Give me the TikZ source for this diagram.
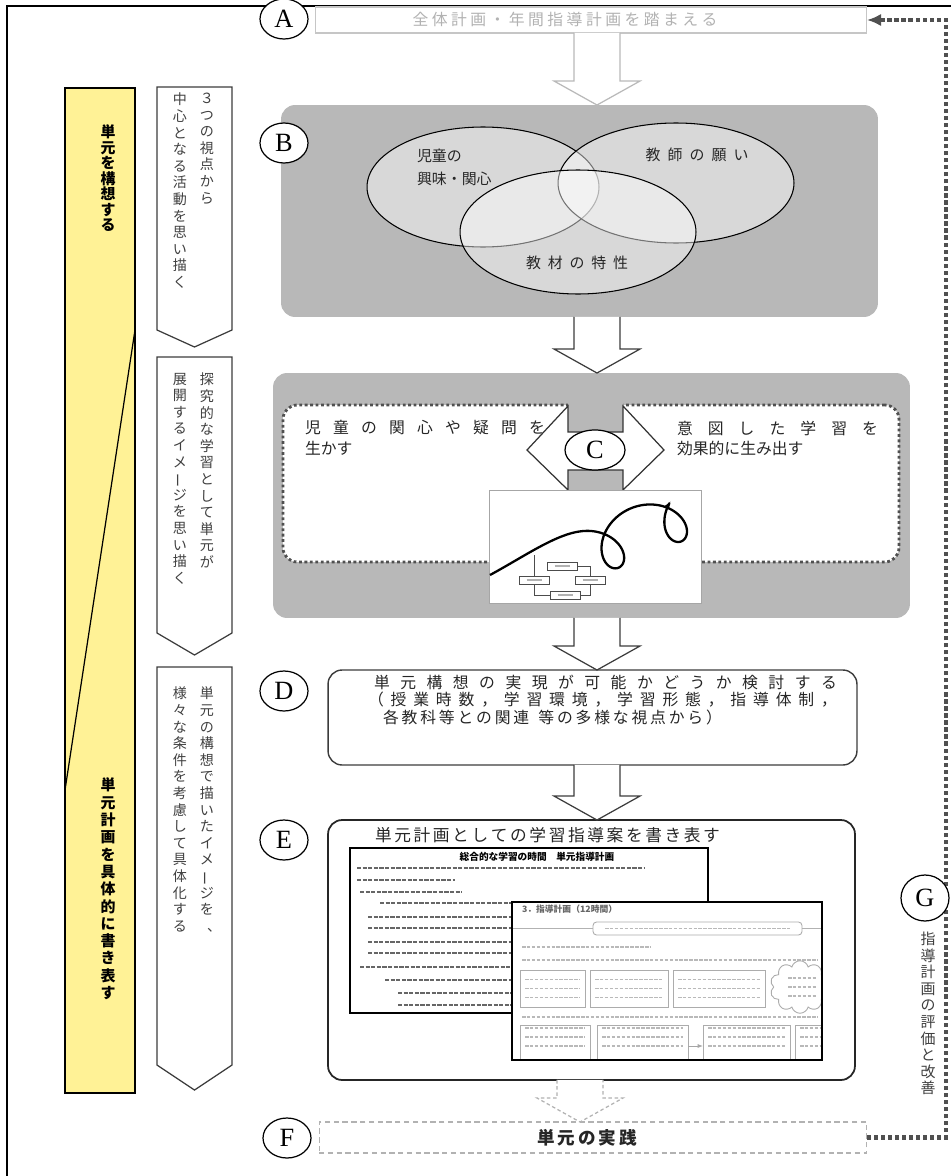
\documentclass[tikz,border=0pt]{standalone}
\usepackage{fontspec}
\usepackage{graphicx}
\newfontfamily\jp{Noto Sans CJK JP}
\newfontfamily\tagfont{Liberation Serif}
\usetikzlibrary{shapes.geometric, shapes.symbols, arrows.meta, positioning, calc}

\definecolor{planyellow}{RGB}{255,242,150}
\definecolor{panelgray}{RGB}{184,184,184}
\definecolor{railgray}{RGB}{80,80,80}
\definecolor{inkgray}{RGB}{60,60,60}

% one glyph per line for the upright columns
\def\endtate{\endtate}
\def\tateloop#1{\ifx\endtate#1\else\hbox to 1em{\hss#1\hss}\expandafter\tateloop\fi}
\newcommand\tate[2][1.15em]{\vbox{\baselineskip=#1\lineskiplimit=-\maxdimen\tateloop#2\endtate}}
% glyphs spread over a given width
\def\spreadloop#1{\ifx\endtate#1\else#1\hfil\expandafter\spreadloop\fi}
\newcommand\spread[2]{\hbox to #1{\spreadloop#2\endtate\unskip}}
\newcommand\vbar{\rotatebox[origin=c]{90}{ー}}
\newcommand\vcomma{\hbox to 1em{\hskip.5em、\hss}}

\begin{document}
\begin{tikzpicture}[x=0.02cm, y=-0.02cm,
  every node/.style={inner sep=0pt, outer sep=0pt},
  tag/.style={ellipse, draw=black, fill=white, line width=0.7pt, minimum width=0.96cm, minimum height=0.8cm, font=\tagfont\fontsize{15}{15}\selectfont},
  panel/.style={rectangle, rounded corners=8pt, fill=panelgray},
  card/.style={rectangle, rounded corners=8pt, draw=inkgray, line width=0.8pt, fill=white},
  sheet/.style={rectangle, draw=black, line width=1.3pt, fill=white},
  memo/.style={rectangle, draw=gray!65, line width=0.5pt, fill=white},
  minibox/.style={rectangle, draw=black!70, line width=0.4pt, fill=white, minimum width=0.6cm, minimum height=0.16cm},
  venn/.style={ellipse, draw=black, line width=0.6pt, fill=white, fill opacity=0.45},
  stepbox/.style={draw=inkgray, line width=0.7pt, fill=white},
  dotzone/.style={rectangle, rounded corners=8pt, fill=white, draw=railgray, line width=1.6pt, dash pattern=on 1.6pt off 1.5pt},
  blockarr/.style={draw=inkgray, line width=0.7pt, fill=white, to path={let \p1=(\tikztostart), \p2=(\tikztotarget) in
     (\x1-0.46cm,\y1) -- (\x1-0.46cm,\y2+0.48cm) -- (\x1-0.86cm,\y2+0.48cm) -- (\x1,\y2)
     -- (\x1+0.86cm,\y2+0.48cm) -- (\x1+0.46cm,\y2+0.48cm) -- (\x1+0.46cm,\y1)}},
  rail/.style={railgray, line width=2.4pt, dash pattern=on 2.4pt off 1.6pt},
  jtext/.style={font=\jp\fontsize{9}{10}\selectfont, text=black!85},
  tatetext/.style={anchor=north, font=\jp\fontsize{8}{9}\selectfont, text=black!75},
  inkbar/.style={black!60, line width=1.5pt, dash pattern=on 2.4pt off 0.8pt},
  greybar/.style={gray!55, line width=1.1pt, dash pattern=on 2pt off 0.8pt},
]
\useasboundingbox (0,0) rectangle (951,1176);
\fill[white] (0,0) rectangle (951,1176);

% outer frame
\draw[black, line width=0.8pt] (7,1176) -- (7,6) -- (951,6);

% left band: the two stages
\node[draw=black, line width=0.8pt, fill=planyellow, minimum width=1.4cm, minimum height=20.1cm] (nPlan) at (100,590.5) {};
\draw[black, line width=0.7pt] (nPlan.east |- 0,330) -- (nPlan.west |- 0,790);
\node[tatetext, text=black, font=\jp\bfseries\fontsize{8.5}{9}\selectfont] (plan1) at (108,125) {\tate[8.8pt]{単元を構想する}};
\node[tatetext, text=black, font=\jp\bfseries\fontsize{8.5}{9}\selectfont] (plan2) at (108,778) {\tate[9.85pt]{単元計画を具体的に書き表す}};

% step columns
\draw[stepbox] (157,87) -- (232,87) -- (232,330) -- (194.5,347) -- (157,330) -- cycle;
\draw[stepbox] (157,357) -- (232,357) -- (232,633) -- (194.5,655) -- (157,633) -- cycle;
\draw[stepbox] (157,667) -- (232,667) -- (232,1065) -- (194.5,1090) -- (157,1065) -- cycle;

\node[tatetext] (step1a) at (207,93) {\tate[9.45pt]{３つの視点から}};
\node[tatetext] (step1b) at (180,93) {\tate[9.45pt]{中心となる活動を思い描く}};
\node[tatetext] (step2a) at (207,373) {\tate[9.45pt]{探究的な学習として単元が}};
\node[tatetext] (step2b) at (180,373) {\tate[9.45pt]{展開するイメ\vbar ジを思い描く}};
\node[tatetext] (step3a) at (207,687) {\tate[9.45pt]{単元の構想で描いたイメ\vbar ジを\vcomma}};
\node[tatetext] (step3b) at (180,687) {\tate[9.45pt]{様々な条件を考慮して具体化する}};

% feedback rail
\coordinate (railx) at (946,0);
\coordinate (axis) at (597,0);
\coordinate (axisF) at (580,0);

%% A
\node[rectangle, draw=gray!45, line width=0.6pt, fill=white, minimum width=11.04cm, minimum height=0.52cm] (nA) at (591,20) {};
\node[font=\jp\fontsize{9}{10}\selectfont, text=gray!60] (nAtext) at (565,19) {\spread{6.1cm}{全体計画・年間指導計画を踏まえる}};
\node[tag] (tagA) at (284,19) {A};

%% B
\node[panel, minimum width=11.94cm, minimum height=4.24cm] (nB) at (579.5,211) {};
\node[venn, minimum width=4.64cm, minimum height=2.4cm] (vKids) at (483,187) {};
\node[venn, minimum width=4.72cm, minimum height=2.4cm] (vWish) at (676,183) {};
\node[venn, minimum width=4.72cm, minimum height=2.48cm] (vTraits) at (578,232) {};
\node[jtext, anchor=north west, align=left, font=\jp\fontsize{8.5}{13}\selectfont] (lblKids) at (417,149) {児童の\\興味・関心};
\node[jtext, font=\jp\fontsize{8.5}{10}\selectfont] (lblWish) at (697,155) {\spread{2.06cm}{教師の願い}};
\node[jtext, font=\jp\fontsize{8.5}{10}\selectfont] (lblTraits) at (577,263) {\spread{2.04cm}{教材の特性}};
\node[tag] (tagB) at (284,143) {B};

%% C
\node[panel, minimum width=12.74cm, minimum height=4.9cm] (nC) at (591.5,495.5) {};
\node[dotzone, minimum width=12.32cm, minimum height=3.14cm] (zone) at (591,483.5) {};
\node[jtext, anchor=west] (askL1) at (305,428) {\spread{4.8cm}{児童の関心や疑問を}};
\node[jtext, anchor=west] (askL2) at (305,448) {生かす};
\node[jtext, anchor=west] (aimR1) at (677,428) {\spread{4.02cm}{意図した学習を}};
\node[jtext, anchor=west] (aimR2) at (677,448) {効果的に生み出す};
\fill[panelgray] (568,400) rectangle (623,490);
\draw[draw=black!80, fill=white, line width=0.7pt] (527,450) -- (568,406) -- (568,432) -- (623,432) -- (623,406) -- (664,450)
  -- (623,490) -- (623,470) -- (568,470) -- (568,490) -- cycle;
\node[tag, minimum width=1.2cm] (tagC) at (595,450) {C};

% snapshot of the spiral plan
\node[draw=gray!70, fill=white, line width=0.5pt, minimum width=4.24cm, minimum height=2.26cm] (snap) at (595,546.5) {};
\draw[black, line width=1.3pt, -{Latex[length=4pt]}] (490,575) .. controls (525,556) and (556,534) .. (581.4,531.2)
  -- plot[domain=3.1416:14.45, samples=160, variable=\t] ({550+10*\t-25*sin(\t r)},{569.4-4.2*\t+25*cos(\t r)});
\node[minibox] (mTop) at (562,566) {\color{gray!60}\rule{0.3cm}{0.05cm}};
\node[minibox] (mLeft) at (534,580) {\color{gray!60}\rule{0.3cm}{0.05cm}};
\node[minibox] (mRight) at (590,580) {\color{gray!60}\rule{0.3cm}{0.05cm}};
\node[minibox] (mBottom) at (565,595) {\color{gray!60}\rule{0.3cm}{0.05cm}};
\coordinate (curveHit) at (534,555);
\draw[black!70, line width=0.4pt] (mTop.east) -| (mRight.north);
\draw[black!70, line width=0.4pt] (mRight.south) |- (mBottom.east);
\draw[black!70, line width=0.4pt] (mBottom.west) -| (mLeft.south);
\draw[black!70, line width=0.4pt] (mLeft.north) -- (mLeft.north |- curveHit);

%% D
\node[card, minimum width=10.58cm, minimum height=1.9cm] (nD) at (592.5,717.5) {};
\node[jtext, anchor=west] (chk1) at (374,682) {\spread{9.26cm}{単元構想の実現が可能かどうか検討する}};
\node[jtext, anchor=west] (chk2) at (368,700) {\spread{9.38cm}{（授業時数，学習環境，学習形態，指導体制，}};
\node[jtext, anchor=west] (chk3) at (383,717) {\spread{6.78cm}{各教科等との関連~等の多様な視点から）}};
\node[tag] (tagD) at (284,691) {D};

%% E
\node[card, draw=black!85, line width=1pt, minimum width=10.54cm, minimum height=5.2cm] (nE) at (591.5,950) {};
\node[jtext, anchor=west, font=\jp\fontsize{9.5}{10}\selectfont] (planTitle) at (375,835) {\spread{6.9cm}{単元計画としての学習指導案を書き表す}};
\node[tag] (tagE) at (284,840) {E};

% first sheet
\node[sheet, minimum width=7.16cm, minimum height=3.3cm] (sheetA) at (529,930.5) {};
\node[font=\jp\bfseries\fontsize{5.5}{6}\selectfont] (sheetAhead) at (537,857) {総合的な学習の時間　単元指導計画};
\foreach \y/\a/\b in {868/357/645, 880/357/455, 892/360/462, 903/380/640, 917/368/640, 928/368/640,
                      942/368/640, 953/368/640, 967/360/640, 980/385/640, 993/398/640, 1005/398/640}
  \draw[inkbar] (\a,\y) -- (\b,\y);

% second sheet
\node[sheet, minimum width=6.2cm, minimum height=3.16cm] (sheetB) at (667,981) {};
\begin{scope}
\clip (sheetB.south west) rectangle (sheetB.north east);
\node[anchor=west, font=\jp\bfseries\fontsize{5}{6}\selectfont, text=black!60] (sheetBhead) at (522,909) {3．指導計画（12時間）};
\node[memo, rounded corners=2pt, minimum width=4.18cm, minimum height=0.26cm] (goal) at (697.5,928.5) {};
\draw[greybar] (605,928.5) -- (790,928.5);
\draw[gray!60, line width=0.5pt] (sheetB.west |- goal) -- (goal.west);
\draw[gray!60, line width=0.5pt] (goal.east) -- (sheetB.east |- goal);
\draw[greybar] (522,947) -- (650,947);
\draw[greybar] (522,960) -- (818,960);
\draw[greybar] (522,1017) -- (818,1017);
\node[memo, minimum width=1.3cm, minimum height=0.74cm] (memo1) at (552.5,988.5) {};
\node[memo, minimum width=1.56cm, minimum height=0.74cm] (memo2) at (629,988.5) {};
\node[memo, minimum width=1.84cm, minimum height=0.74cm] (memo3) at (719,988.5) {};
\node[cloud, cloud puffs=10, draw=gray!65, fill=white, line width=0.5pt, minimum width=1.2cm, minimum height=1.05cm] (puff) at (800,987) {};
\node[memo, minimum width=1.4cm, minimum height=0.84cm] (memo4) at (555,1046) {};
\node[memo, minimum width=1.82cm, minimum height=0.84cm] (memo5) at (642.5,1046) {};
\node[memo, minimum width=1.74cm, minimum height=0.84cm] (memo6) at (746.5,1046) {};
\node[memo, minimum width=0.9cm, minimum height=0.84cm] (memo7) at (817.5,1046) {};
\foreach \m in {memo1,memo2,memo3}
  \foreach \k in {-1,0,1}
    \draw[greybar, line width=0.8pt] ($(\m.west)+(5,\k*9)$) -- ($(\m.east)+(-5,\k*9)$);
\foreach \m in {memo4,memo5,memo6,memo7}
  \foreach \k in {-2,-1,0}
    \draw[greybar, line width=0.8pt] ($(\m.west)+(5,\k*9)$) -- ($(\m.east)+(-5,\k*9)$);
\foreach \k in {-1,0,1}
  \draw[greybar, line width=0.8pt] ($(puff.center)+(-12,\k*9)$) -- ($(puff.center)+(16,\k*9)$);
\draw[gray!70, line width=0.5pt, -{Latex[length=3pt]}] (memo5.east) -- (memo6.west);
\end{scope}
\draw[black, line width=1.3pt] (sheetB.south west) rectangle (sheetB.north east);

%% F
\node[rectangle, draw=gray!60, line width=0.6pt, dash pattern=on 3pt off 2pt, fill=white, minimum width=10.96cm, minimum height=0.62cm] (nF) at (593,1137.5) {};
\node[font=\jp\bfseries\fontsize{10}{11}\selectfont, text=black!85] (nFtext) at (587,1138) {\spread{2cm}{単元の実践}};
\node[tag] (tagF) at (287,1138) {F};

%% flow between the steps
\draw[blockarr, draw=gray!55] (nA.south -| axis) to (nB.north -| axis);
\draw[blockarr] (nB.south -| axis) to (nC.north -| axis);
\draw[blockarr] (nC.south -| axis) to (nD.north -| axis);
\draw[blockarr] (nD.south -| axis) to (nE.north -| axis);
\draw[blockarr, draw=gray!60, dash pattern=on 2pt off 1.5pt] (nE.south -| axisF) to (nF.north -| axisF);

%% G: review loop back to A
\draw[rail, -{Latex[length=8pt, width=7pt]}] (nF.east) -- (nF.east -| railx) -- (nA.east -| railx) -- (nA.east);
\node[tag, minimum height=0.92cm] (tagG) at (925,898) {G};
\node[tatetext, font=\jp\fontsize{8.5}{9}\selectfont] (review) at (928,932) {\tate[9.45pt]{指導計画の評価と改善}};

\end{tikzpicture}
\end{document}
